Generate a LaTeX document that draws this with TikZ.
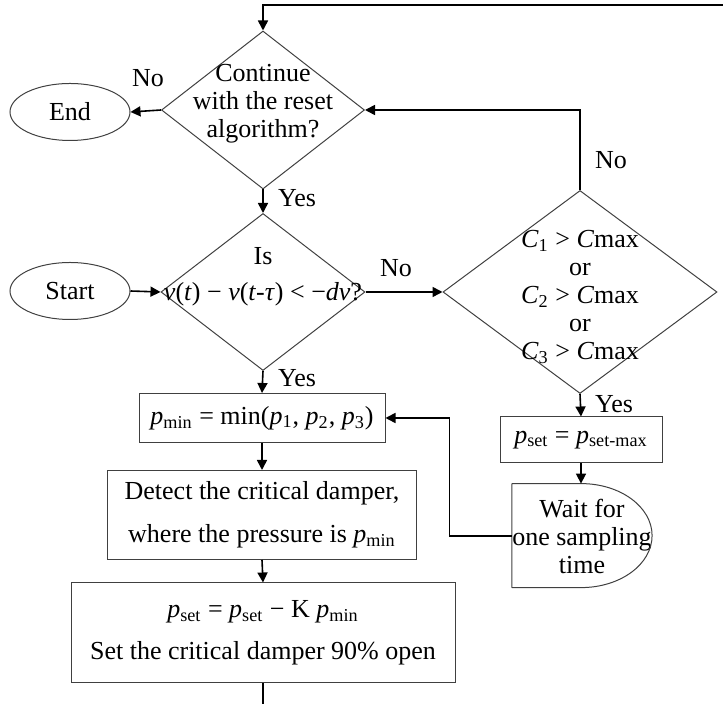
\documentclass[tikz,border=0pt]{standalone}
\usepackage{fontspec}
\setmainfont{Liberation Serif}
\usepackage{tikz}
\usetikzlibrary{shapes.geometric}
\usetikzlibrary{arrows.meta}

\newcommand{\pvar}[1]{\textit{p}\textsubscript{#1}}
\newcommand{\cvar}[1]{\textit{C}\textsubscript{#1}}

\begin{document}
\begin{tikzpicture}[x=0.5pt, y=-0.5pt,
    every node/.style={font=\fontsize{13}{14}\selectfont},
    box/.style={draw=black!75, line width=0.5pt, rectangle, inner sep=0pt, align=center},
    dec/.style={draw=black!75, line width=0.5pt, diamond, inner sep=0pt},
    term/.style={draw=black!75, line width=0.5pt, ellipse, minimum width=60pt, minimum height=28.5pt, inner sep=0pt},
    txt/.style={align=center, inner sep=0pt},
    arr/.style={-{Triangle[length=5pt,width=5pt]}, line width=0.8pt}]
    \useasboundingbox (0,0) rectangle (723,704);

    % terminals
    \node[term] (finish) at (70,112) {End};
    \node[term] (start) at (70,291) {Start};

    % decisions
    \node[dec, minimum width=101.5pt, minimum height=79pt] (cont) at (263,110) {};
    \node[txt] (conttxt) at (263,104) {Continue\\with the reset\\algorithm?};
    \node[dec, minimum width=102pt, minimum height=78.5pt] (isdrop) at (263,292) {};
    \node[txt] (isdroptxt) at (263,277) {Is\\[4pt]\textit{v}(\textit{t}) − \textit{v}(\textit{t}-\textit{τ}) < −\textit{dv}?};
    \node[dec, minimum width=137pt, minimum height=101.5pt] (cmax) at (580,292) {};
    \node[txt] (cmaxtxt) at (580,297) {\cvar{1} > \textit{C}max\\or\\\cvar{2} > \textit{C}max\\or\\\cvar{3} > \textit{C}max};

    % process boxes
    \node[box, minimum width=123pt, minimum height=24.5pt] (pmin) at (262,418) {\pvar{min} = min(\pvar{1}, \pvar{2}, \pvar{3})};
    \node[box, minimum width=154.5pt, minimum height=44.5pt] (detect) at (262,515) {Detect the critical damper,\\[7.5pt]where the pressure is \pvar{min}};
    \node[box, minimum width=192pt, minimum height=50pt] (reset) at (263,633) {\pvar{set} = \pvar{set} − K \pvar{min}\\[7pt]Set the critical damper 90\% open};
    \node[box, minimum width=81pt, minimum height=23pt] (psetmax) at (581,440) {\pvar{set} = \pvar{set-max}};

    % delay
    \node[txt, minimum width=68.5pt, minimum height=52pt] (wait) at (582,536) {Wait for\\one sampling\\time};
    \draw[draw=black!75, line width=0.5pt, line join=round] (wait.north west) -- ([xshift=-35.5pt]wait.north east)
        arc[start angle=90, end angle=-90, x radius=35.5pt, y radius=26pt] -| (wait.north west);

    \coordinate (loopin) at (723,5);
    \coordinate (exit) at (263,704);

    % connectors
    \draw[arr] (loopin) -| (cont.north);
    \draw[arr] (cont.west) -- (finish.east);
    \draw[arr] (cont.south) -- (isdrop.north);
    \draw[arr] (start.east) -- (isdrop.west);
    \draw[arr] (isdrop.east) -- (cmax.west);
    \draw[arr] (isdrop.south) -- (pmin.north);
    \draw[arr] (cmax.north) |- (cont.east);
    \draw[arr] (cmax.south) -- (psetmax.north);
    \draw[arr] (psetmax.south) -- (psetmax.south |- wait.north);
    \draw[arr] (wait.west) -| ([xshift=32pt]pmin.east) -- (pmin.east);
    \draw[arr] (pmin.south) -- (detect.north);
    \draw[arr] (detect.south) -- (reset.north);
    \draw[line width=0.8pt] (reset.south) -- (exit);

    % branch labels
    \node (noend) at (148,78) {No};
    \node (yescont) at (297,198) {Yes};
    \node (nodrop) at (396,268) {No};
    \node (yesdrop) at (297,378) {Yes};
    \node (nocmax) at (611,160) {No};
    \node (yescmax) at (614,404) {Yes};
\end{tikzpicture}
\end{document}
